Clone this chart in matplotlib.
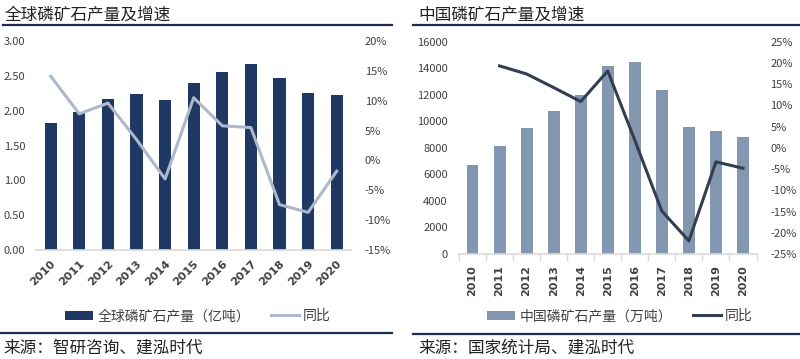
import numpy as np
import matplotlib.pyplot as plt
from matplotlib.lines import Line2D
from matplotlib.patches import Patch

plt.rcParams['font.family'] = ['Noto Sans CJK SC', 'DejaVu Sans']

# data
years = ['2010', '2011', '2012', '2013', '2014', '2015', '2016', '2017', '2018', '2019', '2020']
world_output = [1.83, 1.98, 2.17, 2.24, 2.16, 2.40, 2.56, 2.67, 2.47, 2.26, 2.22]   # 亿吨
world_yoy = [14.1, 7.8, 9.6, 3.5, -3.1, 10.5, 5.8, 5.5, -7.4, -8.7, -1.8]           # %
china_output = [6720, 8150, 9500, 10780, 12000, 14190, 14440, 12350, 9580, 9300, 8850]  # 万吨
china_yoy = [np.nan, 19.3, 17.4, 14.2, 10.9, 18.1, 1.8, -14.9, -21.9, -3.3, -4.8]       # %

W, H = 800, 359
TXT = '#404040'
x = np.arange(len(years))

fig = plt.figure(figsize=(W / 100, H / 100), dpi=100)


def box(l, t, r, b):
    return [l / W, 1 - b / H, (r - l) / W, (b - t) / H]


def hline(x0, x1, y, color='#1F2D4E', lw=1.6):
    fig.add_artist(Line2D([x0 / W, x1 / W], [1 - y / H, 1 - y / H], color=color, lw=lw))


def style(ax, ax2):
    for s in ['top', 'left', 'right']:
        ax.spines[s].set_visible(False)
        ax2.spines[s].set_visible(False)
    ax2.spines['bottom'].set_visible(False)
    ax.spines['bottom'].set_color('#D9D9D9')
    ax.spines['bottom'].set_linewidth(1.2)
    ax.tick_params(axis='y', length=0, labelsize=8, labelcolor=TXT, pad=8)
    ax2.tick_params(axis='y', length=0, labelsize=8, labelcolor=TXT, pad=10)
    ax.set_xlim(-0.5, len(years) - 0.5)


# === Left: world ===
ax1 = fig.add_axes(box(36.4, 41, 351, 250))
ax1b = ax1.twinx()
ax1.bar(x, world_output, width=0.43, color='#203864', label='全球磷矿石产量（亿吨）')
ax1b.plot(x, world_yoy, color='#ADB9CA', lw=2.2, label='同比')
ax1.set_ylim(0, 3)
ax1.set_yticks(np.arange(0, 3.01, 0.5))
ax1.set_yticklabels([f'{v:.2f}' for v in np.arange(0, 3.01, 0.5)])
ax1b.set_ylim(-15, 20)
ax1b.set_yticks(np.arange(-15, 21, 5))
ax1b.set_yticklabels([f'{v}%' for v in range(-15, 21, 5)])
style(ax1, ax1b)
ax1.set_xticks(x)
ax1.set_xticklabels(years, rotation=45, ha='right', va='top', rotation_mode='anchor',
                    fontsize=8, fontweight='bold', color=TXT, family='DejaVu Sans')
ax1.tick_params(axis='x', length=0, pad=6)

# === Right: China ===
ax2 = fig.add_axes(box(459, 41.7, 756.5, 254))
ax2b = ax2.twinx()
ax2.bar(x, china_output, width=0.44, color='#8497B0', label='中国磷矿石产量（万吨）')
ax2b.plot(x, china_yoy, color='#333F50', lw=2.2, label='同比')
ax2.set_ylim(0, 16000)
ax2.set_yticks(np.arange(0, 16001, 2000))
ax2b.set_ylim(-25, 25)
ax2b.set_yticks(np.arange(-25, 26, 5))
ax2b.set_yticklabels([f'{v}%' for v in range(-25, 26, 5)])
style(ax2, ax2b)
ax2.set_xticks(x)
ax2.set_xticklabels(years, rotation=90, fontsize=8, fontweight='bold', color=TXT, family='DejaVu Sans')
ax2.tick_params(axis='x', which='major', length=0, pad=8)
ax2.set_xticks(np.arange(-0.5, len(years), 1), minor=True)
ax2.tick_params(axis='x', which='minor', length=5, color='#D9D9D9', width=1)

# legends
for ax, axb, cx in [(ax1, ax1b, 198), (ax2, ax2b, 620)]:
    h1, l1 = ax.get_legend_handles_labels()
    h2, l2 = axb.get_legend_handles_labels()
    fig.legend(h1 + h2, l1 + l2, loc='center', bbox_to_anchor=(cx / W, 1 - 316 / H), ncol=2,
               frameon=False, fontsize=10, handlelength=2.0, handleheight=0.6,
               columnspacing=1.5, handletextpad=0.3, labelcolor=TXT)

# titles, rules and sources
fig.text(5 / W, 1 - 15 / H, '全球磷矿石产量及增速', fontsize=12, color='#222222', va='center')
fig.text(418 / W, 1 - 15 / H, '中国磷矿石产量及增速', fontsize=12, color='#222222', va='center')
hline(3, 392, 24.5)
hline(413, 800, 24.5)
hline(0, 392, 333)
hline(413, 800, 334)
fig.text(3 / W, 1 - 348 / H, '来源：智研咨询、建泓时代', fontsize=12, color='#222222', va='center')
fig.text(418 / W, 1 - 348 / H, '来源：国家统计局、建泓时代', fontsize=12, color='#222222', va='center')

fig.savefig('out.png', dpi=100)
